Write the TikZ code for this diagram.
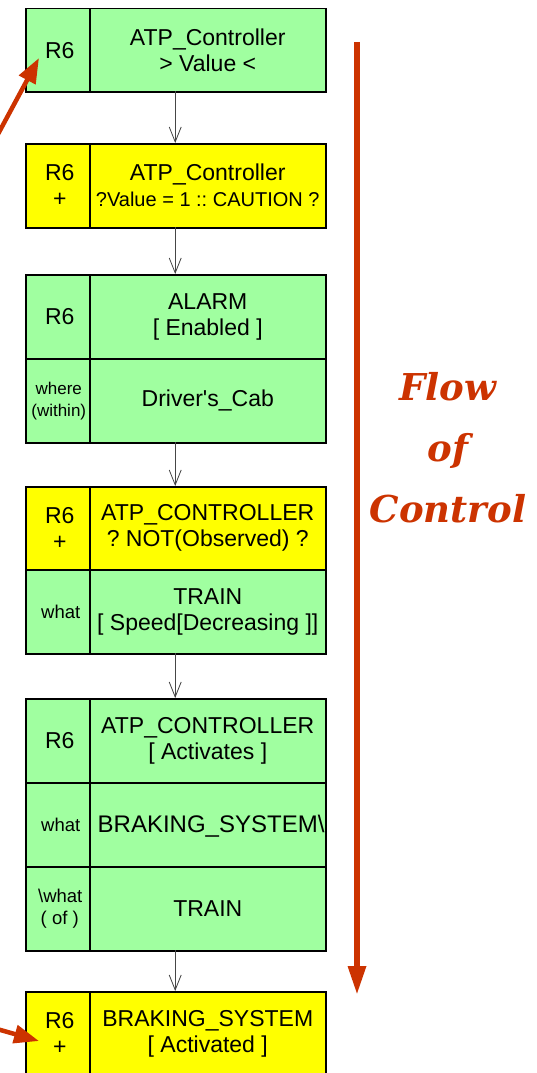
\documentclass[tikz,border=0pt]{standalone}
\usepackage{fontspec}
\setmainfont{Liberation Sans}
\newfontfamily\flowfont{DejaVu Serif}
\usetikzlibrary{arrows.meta}
\definecolor{boxgreen}{RGB}{160,255,160}
\definecolor{boxyellow}{RGB}{255,255,0}
\definecolor{flowred}{RGB}{204,51,0}
\definecolor{conngray}{RGB}{70,70,70}
\frenchspacing
\begin{document}
\begin{tikzpicture}[x=1pt,y=-1pt,
  cellbase/.style={draw=black, line width=1.5pt, inner sep=0pt, anchor=north west, align=center,
    font=\fontsize{23}{26}\selectfont},
  gcell/.style={cellbase, fill=boxgreen},
  ycell/.style={cellbase, fill=boxyellow},
  lcol/.style={minimum width=64},
  mcol/.style={minimum width=236},
  small/.style={font=\fontsize{17}{22}\selectfont},
  smallw/.style={font=\fontsize{18.5}{22}\selectfont},
  grp/.style={draw=none, inner sep=0pt, anchor=north west, minimum width=300},
  conn/.style={draw=conngray, line width=0.8pt, -{Straight Barb[length=15pt,width=12pt,line width=0.8pt]}},
  redarrow/.style={draw=flowred, line width=4.5pt, -{Triangle[length=25pt,width=18pt]}},
  bigarrow/.style={draw=flowred, line width=6pt, -{Triangle[length=29pt,width=17pt]}},
  flowtext/.style={text=flowred, align=center, font=\flowfont\bfseries\itshape\fontsize{37}{61}\selectfont}
]
\clip (0,0) rectangle (537,1073);
\fill[white] (0,0) rectangle (537,1073);

% group frames (for connectors)
\node[grp, minimum height=83] (g1) at (25,8) {};
\node[grp, minimum height=84] (g2) at (25,143) {};
\node[grp, minimum height=168] (g3) at (25,274) {};
\node[grp, minimum height=167] (g4) at (25,486) {};
\node[grp, minimum height=252] (g5) at (25,698) {};
\node[grp, minimum height=83] (g6) at (25,991) {};

% Box 1
\node[gcell, lcol, minimum height=83] (b1l) at (25,8) {\hspace*{4pt}R6};
\node[gcell, mcol, minimum height=83] (b1m) at (89,8) {ATP\_Controller\\> Value <};

% Box 2
\node[ycell, lcol, minimum height=84] (b2l) at (25,143) {\hspace*{4pt}R6\\\hspace*{4pt}+};
\node[ycell, mcol, minimum height=84] (b2m) at (89,143) {ATP\_Controller\\{\fontsize{20}{26}\selectfont ?Value = 1 :: CAUTION ?}};

% Box 3
\node[gcell, lcol, minimum height=84] (b3l) at (25,274) {\hspace*{4pt}R6};
\node[gcell, mcol, minimum height=84] (b3m) at (89,274) {ALARM\\{[} Enabled ]};
\node[gcell, lcol, minimum height=84, small] (b3l2) at (25,358) {\hspace*{2pt}where\\\hspace*{2pt}(within)};
\node[gcell, mcol, minimum height=84] (b3m2) at (89,358) {Driver\textquotesingle s\_Cab};

% Box 4
\node[ycell, lcol, minimum height=83] (b4l) at (25,486) {\hspace*{4pt}R6\\\hspace*{4pt}+};
\node[ycell, mcol, minimum height=83] (b4m) at (89,486) {ATP\_CONTROLLER\\? NOT(Observed) ?};
\node[gcell, lcol, minimum height=84, smallw] (b4l2) at (25,569) {\hspace*{6pt}what};
\node[gcell, mcol, minimum height=84] (b4m2) at (89,569) {TRAIN\\{[} Speed[Decreasing ]]};

% Box 5
\node[gcell, lcol, minimum height=84] (b5l) at (25,698) {\hspace*{4pt}R6};
\node[gcell, mcol, minimum height=84] (b5m) at (89,698) {ATP\_CONTROLLER\\{[} Activates ]};
\node[gcell, lcol, minimum height=84, smallw] (b5l2) at (25,782) {\hspace*{6pt}what};
\node[gcell, mcol, minimum height=84] (b5m2) at (89,782) {};
\begin{scope}
  \clip (89,782) rectangle (324.2,866);
  \node[anchor=west, inner sep=0pt, font=\fontsize{24}{26}\selectfont] (b5t) at (97.5,826) {BRAKING\_SYSTEM\textbackslash};
\end{scope}
\node[gcell, lcol, minimum height=84, smallw] (b5l3) at (25,866) {\hspace*{5pt}\textbackslash what\\\hspace*{4pt}( of )};
\node[gcell, mcol, minimum height=84] (b5m3) at (89,866) {TRAIN};

% Box 6
\node[ycell, lcol, minimum height=84] (b6l) at (25,991) {\hspace*{4pt}R6\\\hspace*{4pt}+};
\node[ycell, mcol, minimum height=84] (b6m) at (89,991) {BRAKING\_SYSTEM\\{[} Activated ]};

% connectors
\draw[conn] (g1.south) -- (g2.north);
\draw[conn] (g2.south) -- (g3.north);
\draw[conn] (g3.south) -- (g4.north);
\draw[conn] (g4.south) -- (g5.north);
\draw[conn] (g5.south) -- (g6.north);

% red pointer arrows
\coordinate (p1s) at (-3,136);
\coordinate (p1e) at (39,58);
\draw[redarrow] (p1s) -- (p1e);
\coordinate (p2s) at (-3,1029);
\coordinate (p2e) at (39,1041);
\draw[redarrow] (p2s) -- (p2e);

% flow of control
\coordinate (fs) at (357,42);
\coordinate (fe) at (357,995);
\draw[bigarrow] (fs) -- (fe);
\node[flowtext] (flow) at (448,448) {Flow\\of\\Control};
\end{tikzpicture}
\end{document}
